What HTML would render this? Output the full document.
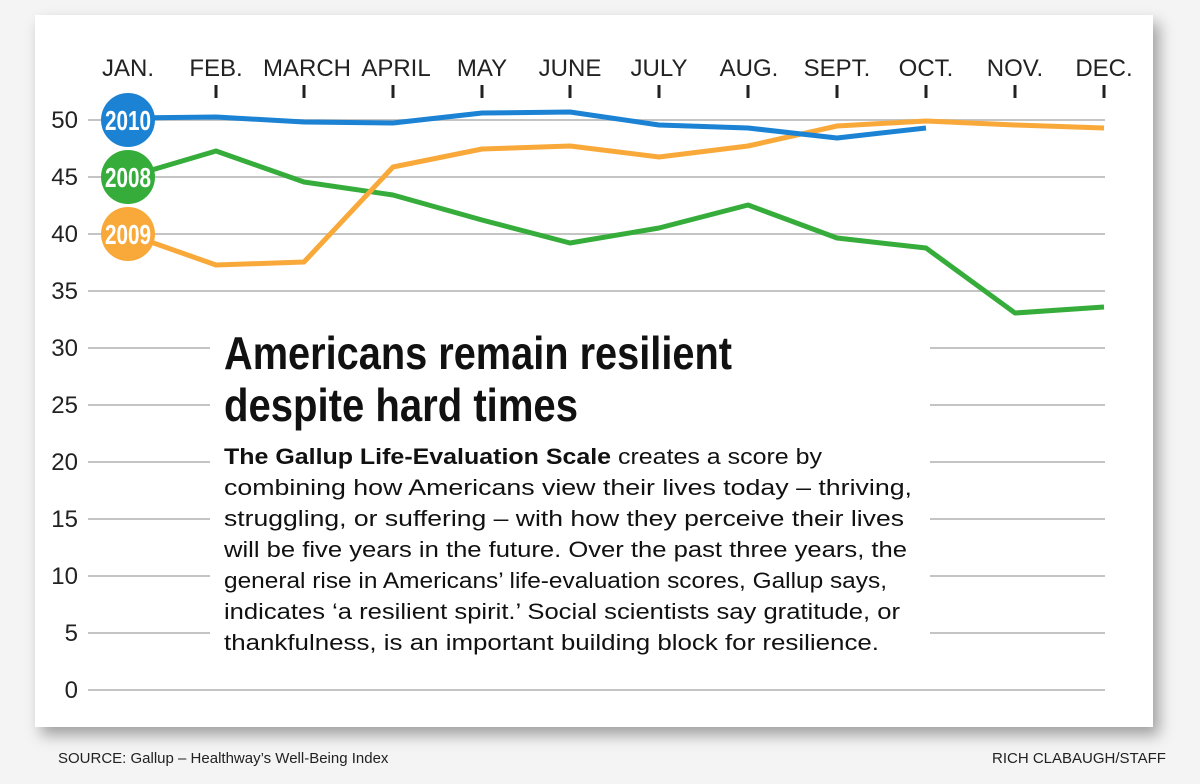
<!DOCTYPE html>
<html><head><style>
body{margin:0;width:1200px;height:784px;background:#f4f4f4;position:relative;overflow:hidden;font-family:"Liberation Sans",sans-serif}
.panel{position:absolute;left:35px;top:15px;width:1118px;height:712px;background:#fff;box-shadow:6px 8px 14px rgba(0,0,0,0.35)}
.foot{position:absolute;top:750px;font-size:15px;color:#222;font-family:"Liberation Sans Narrow","Liberation Sans",sans-serif}
</style></head><body>
<div class="panel"></div>
<svg width="1200" height="784" style="position:absolute;left:0;top:0" font-family="Liberation Sans, sans-serif">
<g stroke="#c4c4c4" stroke-width="2">
<line x1="88" x2="1105" y1="120" y2="120"/><line x1="88" x2="1105" y1="177" y2="177"/><line x1="88" x2="1105" y1="234" y2="234"/><line x1="88" x2="1105" y1="291" y2="291"/><line x1="88" x2="1105" y1="348" y2="348"/><line x1="88" x2="1105" y1="405" y2="405"/><line x1="88" x2="1105" y1="462" y2="462"/><line x1="88" x2="1105" y1="519" y2="519"/><line x1="88" x2="1105" y1="576" y2="576"/><line x1="88" x2="1105" y1="633" y2="633"/><line x1="88" x2="1105" y1="690" y2="690"/>
</g>
<g font-size="24" fill="#222" text-anchor="end">
<text x="78" y="128">50</text><text x="78" y="185">45</text><text x="78" y="242">40</text><text x="78" y="299">35</text><text x="78" y="356">30</text><text x="78" y="413">25</text><text x="78" y="470">20</text><text x="78" y="527">15</text><text x="78" y="584">10</text><text x="78" y="641">5</text><text x="78" y="698">0</text>
</g>
<g font-size="24" fill="#222" text-anchor="middle">
<text x="128" y="76">JAN.</text><text x="216" y="76">FEB.</text><text x="307" y="76">MARCH</text><text x="396" y="76">APRIL</text><text x="482" y="76">MAY</text><text x="570" y="76">JUNE</text><text x="659" y="76">JULY</text><text x="749" y="76">AUG.</text><text x="837" y="76">SEPT.</text><text x="926" y="76">OCT.</text><text x="1015" y="76">NOV.</text><text x="1104" y="76">DEC.</text>
</g>
<g stroke="#222" stroke-width="3">
<line x1="216" x2="216" y1="85" y2="98"/><line x1="304" x2="304" y1="85" y2="98"/><line x1="393" x2="393" y1="85" y2="98"/><line x1="482" x2="482" y1="85" y2="98"/><line x1="570" x2="570" y1="85" y2="98"/><line x1="659" x2="659" y1="85" y2="98"/><line x1="748" x2="748" y1="85" y2="98"/><line x1="837" x2="837" y1="85" y2="98"/><line x1="926" x2="926" y1="85" y2="98"/><line x1="1015" x2="1015" y1="85" y2="98"/><line x1="1104" x2="1104" y1="85" y2="98"/>
</g>
<g fill="none" stroke-width="5" stroke-linejoin="round">
<polyline stroke="#36ad3b" points="128,177 216,151 304,182 393,195 482,220 570,243 659,228 748,205 837,238 926,248 1015,313 1104,307"/>
<polyline stroke="#f9a93a" points="128,234 216,265 304,262 393,167 482,149 570,146 659,157 748,146 837,126 926,121 1015,125 1104,128"/>
<polyline stroke="#1b82d4" points="128,118 216,117 304,122 393,123 482,113 570,112 659,125 748,128 837,138 926,128"/>
</g>
<rect x="210" y="322" width="720" height="345" fill="#fff"/>
<g font-family="Liberation Sans Narrow, Liberation Sans, sans-serif" font-weight="bold" font-size="28" fill="#fff" text-anchor="middle">
<circle cx="128" cy="120" r="27" fill="#1b82d4"/><text x="128" y="130" textLength="46" lengthAdjust="spacingAndGlyphs">2010</text>
<circle cx="128" cy="177" r="27" fill="#36ad3b"/><text x="128" y="187" textLength="46" lengthAdjust="spacingAndGlyphs">2008</text>
<circle cx="128" cy="234" r="27" fill="#f9a93a"/><text x="128" y="244" textLength="46" lengthAdjust="spacingAndGlyphs">2009</text>
</g>
<g font-family="Liberation Sans Narrow, Liberation Sans, sans-serif" font-weight="bold" font-size="46" fill="#111">
<text x="224" y="369" textLength="508" lengthAdjust="spacingAndGlyphs">Americans remain resilient</text>
<text x="224" y="421" textLength="354" lengthAdjust="spacingAndGlyphs">despite hard times</text>
</g>
<g font-size="22" fill="#111">
<text x="224" y="464" textLength="598" lengthAdjust="spacingAndGlyphs"><tspan font-weight="bold">The Gallup Life-Evaluation Scale</tspan> creates a score by</text>
<text x="224" y="495" textLength="688" lengthAdjust="spacingAndGlyphs">combining how Americans view their lives today – thriving,</text>
<text x="224" y="526" textLength="680" lengthAdjust="spacingAndGlyphs">struggling, or suffering – with how they perceive their lives</text>
<text x="224" y="557" textLength="683" lengthAdjust="spacingAndGlyphs">will be five years in the future. Over the past three years, the</text>
<text x="224" y="588" textLength="663" lengthAdjust="spacingAndGlyphs">general rise in Americans’ life-evaluation scores, Gallup says,</text>
<text x="224" y="619" textLength="676" lengthAdjust="spacingAndGlyphs">indicates ‘a resilient spirit.’ Social scientists say gratitude, or</text>
<text x="224" y="650" textLength="655" lengthAdjust="spacingAndGlyphs">thankfulness, is an important building block for resilience.</text>
</g>
</svg>
<div class="foot" style="left:58px">SOURCE: Gallup – Healthway’s Well-Being Index</div>
<div class="foot" style="left:992px">RICH CLABAUGH/STAFF</div>
</body></html>
